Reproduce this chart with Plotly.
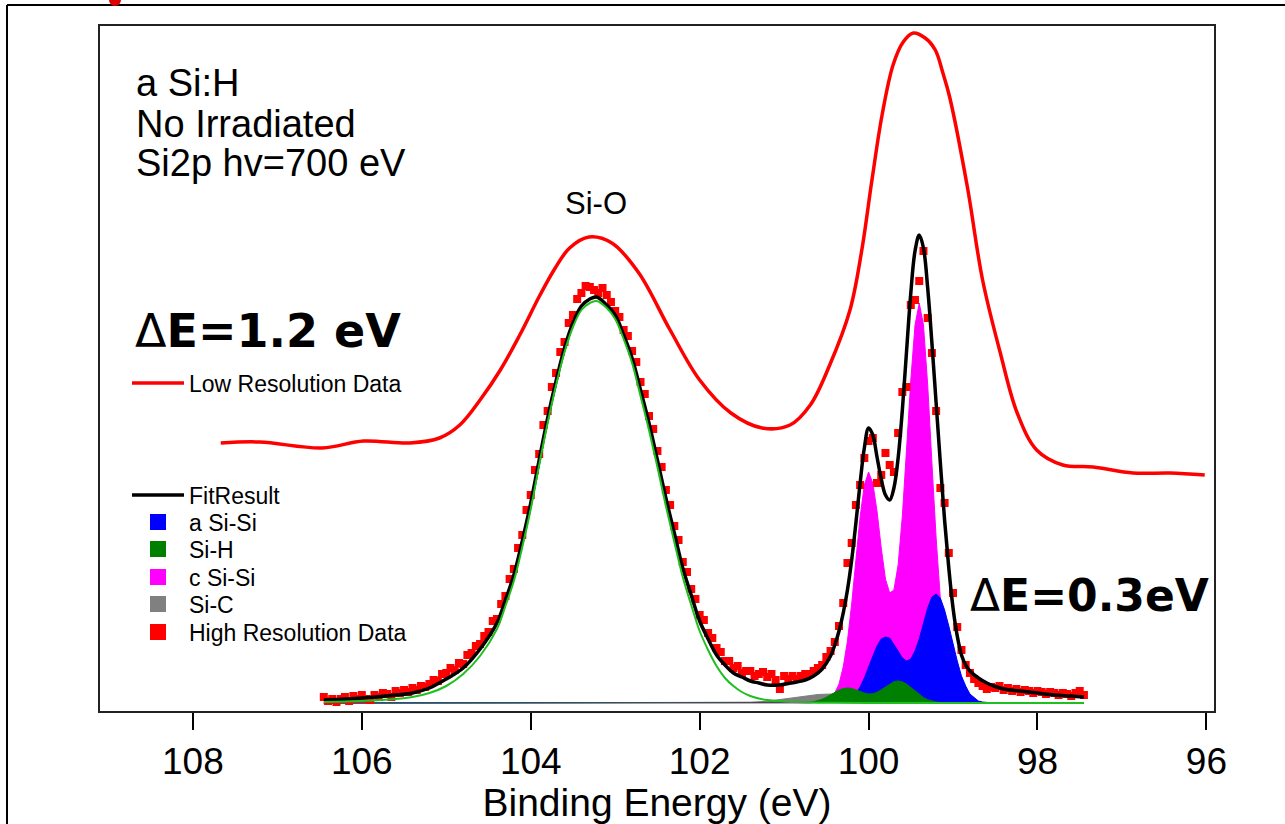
import plotly.graph_objects as go

# ---------------- data ----------------
# High resolution Si2p spectrum, 0.05 eV steps
be_high = [
    106.45, 106.40, 106.35, 106.30, 106.25, 106.20, 106.15, 106.10, 106.05, 106.00,
    105.95, 105.90, 105.85, 105.80, 105.75, 105.70, 105.65, 105.60, 105.55, 105.50,
    105.45, 105.40, 105.35, 105.30, 105.25, 105.20, 105.15, 105.10, 105.05, 105.00,
    104.95, 104.90, 104.85, 104.80, 104.75, 104.70, 104.65, 104.60, 104.55, 104.50,
    104.45, 104.40, 104.35, 104.30, 104.25, 104.20, 104.15, 104.10, 104.05, 104.00,
    103.95, 103.90, 103.85, 103.80, 103.75, 103.70, 103.65, 103.60, 103.55, 103.50,
    103.45, 103.40, 103.35, 103.30, 103.25, 103.20, 103.15, 103.10, 103.05, 103.00,
    102.95, 102.90, 102.85, 102.80, 102.75, 102.70, 102.65, 102.60, 102.55, 102.50,
    102.45, 102.40, 102.35, 102.30, 102.25, 102.20, 102.15, 102.10, 102.05, 102.00,
    101.95, 101.90, 101.85, 101.80, 101.75, 101.70, 101.65, 101.60, 101.55, 101.50,
    101.45, 101.40, 101.35, 101.30, 101.25, 101.20, 101.15, 101.10, 101.05, 101.00,
    100.95, 100.90, 100.85, 100.80, 100.75, 100.70, 100.65, 100.60, 100.55, 100.50,
    100.45, 100.40, 100.35, 100.30, 100.25, 100.20, 100.15, 100.10, 100.05, 100.00,
    99.95, 99.90, 99.85, 99.80, 99.75, 99.70, 99.65, 99.60, 99.55, 99.50,
    99.45, 99.40, 99.35, 99.30, 99.25, 99.20, 99.15, 99.10, 99.05, 99.00,
    98.95, 98.90, 98.85, 98.80, 98.75, 98.70, 98.65, 98.60, 98.55, 98.50,
    98.45, 98.40, 98.35, 98.30, 98.25, 98.20, 98.15, 98.10, 98.05, 98.00,
    97.95, 97.90, 97.85, 97.80, 97.75, 97.70, 97.65, 97.60, 97.55, 97.50,
    97.45,
]
int_high = [
    6, 2, 4, 1, 4, 6, 2, 7, 4, 8,
    4, 3, 8, 6, 10, 9, 6, 12, 10, 13,
    11, 15, 13, 17, 16, 19, 23, 22, 29, 30,
    35, 33, 40, 39, 48, 50, 57, 59, 67, 71,
    82, 84, 99, 107, 124, 134, 155, 168, 193, 208,
    233, 249, 278, 292, 316, 330, 351, 361, 380, 388,
    404, 410, 417, 416, 413, 410, 415, 408, 401, 392,
    386, 373, 367, 352, 341, 321, 309, 287, 274, 252,
    236, 213, 198, 177, 163, 141, 131, 114, 104, 88,
    83, 70, 65, 55, 51, 42, 42, 35, 37, 30,
    32, 32, 27, 29, 31, 26, 29, 23, 14, 27,
    24, 27, 24, 27, 29, 29, 32, 35, 38, 46,
    52, 61, 77, 100, 140, 160, 198, 218, 245, 262,
    265, 220, 228, 250, 238, 231, 270, 311, 316, 398,
    403, 422, 452, 385, 350, 292, 215, 200, 150, 110,
    76, 53, 38, 30, 24, 20, 17, 14, 16, 15,
    17, 13, 15, 12, 14, 11, 13, 12, 10, 12,
    11, 9, 11, 10, 8, 10, 9, 7, 10, 12,
    8,
]

# Low resolution spectrum
be_low = [107.67, 107.21, 106.47, 105.98, 105.43, 105.08, 104.84, 104.60, 104.36, 104.13,
          103.89, 103.71, 103.54, 103.31, 103.04, 102.72, 102.35, 102.00, 101.63, 101.26,
          100.93, 100.69, 100.46, 100.22, 100.08, 99.96, 99.84, 99.71, 99.59, 99.47,
          99.33, 99.21, 99.12, 99.04, 98.83, 98.65, 98.44, 98.24, 98.01, 97.70,
          97.34, 96.87, 96.43, 96.02]
int_low = [260, 261, 255, 262, 260, 265, 278, 303, 333, 368,
           408, 435, 455, 466, 460, 430, 373, 323, 290, 275,
           278, 298, 338, 393, 453, 523, 588, 638, 661, 670,
           665, 653, 630, 606, 516, 423, 350, 290, 253, 238,
           236, 230, 230, 228]

# Total fit envelope
be_fit = [106.45, 106.0, 105.6, 105.4, 105.2, 105.0, 104.8, 104.6, 104.4, 104.3,
          104.2, 104.1, 104.0, 103.9, 103.8, 103.7, 103.6, 103.5, 103.4, 103.3,
          103.22, 103.1, 103.0, 102.9, 102.8, 102.7, 102.6, 102.5, 102.4, 102.3,
          102.2, 102.1, 102.0, 101.9, 101.8, 101.7, 101.6, 101.5, 101.4, 101.3,
          101.2, 101.05, 100.95, 100.85, 100.75, 100.65, 100.55, 100.45, 100.40, 100.35,
          100.30, 100.25, 100.20, 100.15, 100.10, 100.05, 100.00, 99.95, 99.90, 99.85,
          99.80, 99.75, 99.70, 99.65, 99.60, 99.55, 99.50, 99.45, 99.40, 99.35,
          99.30, 99.25, 99.20, 99.15, 99.10, 99.05, 99.00, 98.95, 98.90, 98.85,
          98.80, 98.70, 98.60, 98.50, 98.40, 98.20, 98.00, 97.80, 97.60, 97.45]
int_fit = [3, 5, 8, 10, 15, 24, 35, 54, 80, 103,
           128, 162, 200, 243, 285, 322, 355, 380, 397, 404,
           406, 398, 388, 368, 345, 313, 280, 243, 205, 170,
           135, 108, 82, 64, 48, 38, 30, 26, 22, 20,
           18, 18, 19.5, 21, 23, 27, 34, 47, 58, 72,
           90, 113, 143, 180, 220, 255, 275, 268, 246, 224,
           208, 203, 215, 245, 293, 352, 410, 452, 468, 455,
           415, 360, 300, 240, 183, 135, 95, 67, 48, 38,
           32, 25, 20, 16.5, 14, 12, 10, 8, 7, 6]

# Si-O component
be_sio = [106.45, 106.0, 105.6, 105.4, 105.2, 105.0, 104.8, 104.6, 104.4, 104.3,
          104.2, 104.1, 104.0, 103.9, 103.8, 103.7, 103.6, 103.5, 103.4, 103.3,
          103.22, 103.1, 103.0, 102.9, 102.8, 102.7, 102.6, 102.5, 102.4, 102.3,
          102.2, 102.1, 102.0, 101.9, 101.8, 101.7, 101.6, 101.5, 101.4, 101.3,
          101.2, 101.0, 100.8, 100.5, 100.0, 97.45]
int_sio = [1, 2, 4, 6, 10, 17, 29, 47, 74, 97,
           122, 156, 194, 238, 280, 318, 351, 376, 393, 400,
           402, 395, 384, 364, 340, 307, 273, 236, 197, 161,
           126, 98, 72, 53, 37, 25, 17, 11, 7, 4.5,
           3, 1.5, 0.7, 0.2, 0, 0]

# c Si-Si doublet
be_csi = [106.45, 100.70, 100.60, 100.55, 100.50, 100.45, 100.40, 100.35, 100.30, 100.25,
          100.20, 100.15, 100.10, 100.05, 100.00, 99.95, 99.90, 99.85, 99.80, 99.75,
          99.70, 99.65, 99.60, 99.55, 99.50, 99.45, 99.40, 99.35, 99.30, 99.25,
          99.20, 99.15, 99.10, 99.05, 99.00, 98.95, 98.90, 98.85, 98.80, 98.60, 97.45]
int_csi = [0, 0, 1, 2, 3, 5, 10, 19, 36, 62,
           99, 143, 186, 218, 231, 220, 192, 155, 124, 110,
           113, 138, 187, 254, 323, 378, 400, 378, 318, 240,
           165, 104, 60, 32, 16, 8, 4, 2, 1, 0, 0]

# a Si-Si doublet
be_asi = [106.45, 100.45, 100.40, 100.35, 100.30, 100.25, 100.20, 100.15, 100.10, 100.05,
          100.00, 99.95, 99.90, 99.85, 99.80, 99.75, 99.70, 99.65, 99.60, 99.55,
          99.50, 99.45, 99.40, 99.35, 99.30, 99.25, 99.20, 99.15, 99.10, 99.05,
          99.00, 98.95, 98.90, 98.85, 98.80, 98.75, 98.70, 98.65, 98.60, 98.55,
          98.45, 97.45]
int_asi = [0, 0, 0.3, 0.6, 1.4, 2.9, 5.6, 10, 16, 25,
           36, 47, 57, 64, 66, 65, 59, 52, 45, 42,
           44, 52, 64, 80, 95, 106, 109, 105, 93, 77,
           59, 42, 27, 17, 9, 5, 2, 1, 0.4, 0.2,
           0, 0]

# Si-H doublet
be_sih = [106.45, 100.90, 100.85, 100.80, 100.75, 100.70, 100.65, 100.60, 100.55, 100.50,
          100.45, 100.40, 100.35, 100.30, 100.25, 100.20, 100.15, 100.10, 100.05, 100.00,
          99.95, 99.90, 99.85, 99.80, 99.75, 99.70, 99.65, 99.60, 99.55, 99.50,
          99.45, 99.40, 99.35, 99.30, 99.25, 99.20, 99.15, 99.10, 99.05, 98.95, 97.45]
int_sih = [0, 0, 0.1, 0.1, 0.3, 0.7, 1.3, 2.3, 3.7, 5.7,
           8.1, 10.6, 12.9, 14.4, 15.1, 14.6, 13.4, 11.6, 10.0, 9.0,
           9.2, 10.7, 13.2, 16.2, 19.2, 21.3, 22.1, 21.2, 18.9, 15.6,
           11.9, 8.4, 5.5, 3.3, 1.9, 1.0, 0.5, 0.2, 0.1, 0, 0]

# Si-C component
be_sic = [106.45, 102.0, 101.8, 101.6, 101.4, 101.2, 101.0, 100.8, 100.6, 100.45,
          100.3, 100.1, 99.9, 99.7, 99.5, 99.3, 99.1, 98.9, 97.45]
int_sic = [0, 0, 0.05, 0.2, 0.7, 1.8, 3.8, 6.4, 8.5, 9,
           8.5, 6.4, 3.8, 1.8, 0.7, 0.2, 0.05, 0, 0]

x_ticks = [108, 106, 104, 102, 100, 98, 96]

# ---------------- figure ----------------
W, H = 1285, 824
L, R, T, B = 100, 1214, 26, 711   # plot-area edges in pixels


def px(xp):
    return (xp - L) / (R - L)


def py(yp):
    return (B - yp) / (B - T)


SANS = "Liberation Sans, Arial, sans-serif"
COMIC = "Comic Sans MS, DejaVu Sans, sans-serif"

fig = go.Figure()

# component fills (drawn back to front)
fills = [
    ("Si-C", be_sic, int_sic, "#808080", "legend7"),
    ("c Si-Si", be_csi, int_csi, "#ff00ff", "legend6"),
    ("a Si-Si", be_asi, int_asi, "#0000ff", "legend4"),
    ("Si-H", be_sih, int_sih, "#008000", "legend5"),
]
for name, xs, ys, col, lg in fills:
    fig.add_trace(go.Scatter(
        x=xs, y=ys, mode="lines", fill="tozeroy", fillcolor=col,
        line=dict(color=col, width=1), name=name, legendgroup=name,
        showlegend=False,
    ))
    # legend swatch
    fig.add_trace(go.Scatter(
        x=[None], y=[None], mode="markers", name=name, legendgroup=name,
        marker=dict(symbol="square", size=16, color=col), legend=lg,
    ))

# low resolution spectrum
fig.add_trace(go.Scatter(
    x=be_low, y=int_low, mode="lines", line=dict(color="#ff0000", width=3.5, shape="spline"),
    name="Low Resolution Data", legend="legend",
))

# high resolution data points
fig.add_trace(go.Scatter(
    x=be_high, y=int_high, mode="markers",
    marker=dict(symbol="square", size=8, color="#ff0000"),
    name="High Resolution Data", legendgroup="hr", showlegend=False,
))
fig.add_trace(go.Scatter(
    x=[None], y=[None], mode="markers", name="High Resolution Data", legendgroup="hr",
    marker=dict(symbol="square", size=16, color="#ff0000"), legend="legend8",
))

# fit envelope
fig.add_trace(go.Scatter(
    x=be_fit, y=int_fit, mode="lines", line=dict(color="#000000", width=3.5, shape="spline"),
    name="FitResult", legend="legend3",
))

# Si-O component line
fig.add_trace(go.Scatter(
    x=be_sio, y=int_sio, mode="lines", line=dict(color="#1fbf1f", width=2, shape="spline"),
    name="Si-O", showlegend=False,
))

# one legend box per entry so each row sits at its own height
legend_rows = {"legend": 383, "legend3": 495, "legend4": 522, "legend5": 549,
               "legend6": 577, "legend7": 604, "legend8": 632}
legend_layout = {}
for key, ypix in legend_rows.items():
    legend_layout[key] = dict(
        x=px(127), y=py(ypix), xanchor="left", yanchor="middle",
        bgcolor="rgba(0,0,0,0)", borderwidth=0,
        font=dict(family=SANS, size=23, color="#000000"),
        itemwidth=52,
    )

fig.update_layout(
    width=W, height=H,
    margin=dict(l=L, r=W - R, t=T, b=H - B, autoexpand=False),
    paper_bgcolor="#ffffff", plot_bgcolor="#ffffff",
    showlegend=True,
    **legend_layout,
    xaxis=dict(
        range=[109.10, 95.91], tickvals=x_ticks, ticktext=[str(v) for v in x_ticks],
        ticks="outside", ticklen=17, tickwidth=2, tickcolor="#000000",
        showline=True, linewidth=2, linecolor="#222222", mirror=True,
        showgrid=False, zeroline=False, automargin=False,
        tickfont=dict(family=SANS, size=37, color="#000000"),
        title=dict(text="Binding Energy (eV)", font=dict(family=SANS, size=39, color="#000000"),
                   standoff=12),
    ),
    yaxis=dict(
        range=[-8, 677], showticklabels=False, ticks="",
        showline=True, linewidth=2, linecolor="#222222", mirror=True,
        showgrid=False, zeroline=False, automargin=False,
    ),
)

# text labels
labels = [
    ("a Si:H", 134, 83, 38, SANS, "left"),
    ("No Irradiated", 134, 124, 38, SANS, "left"),
    ("Si2p hv=700 eV", 134, 163, 38, SANS, "left"),
    ("Si-O", 596, 203, 31, SANS, "center"),
    ("Δ<b>E=1.2 eV</b>", 133, 331, 46, COMIC, "left"),
    ("Δ<b>E=0.3eV</b>", 968, 595, 44, COMIC, "left"),
]
for txt, xp, yp, size, fam, anchor in labels:
    fig.add_annotation(
        text=txt, x=px(xp), y=py(yp), xref="paper", yref="paper",
        xanchor=anchor, yanchor="middle", showarrow=False,
        font=dict(family=fam, size=size, color="#000000"),
    )

# surrounding slide frame
fig.add_shape(type="line", xref="paper", yref="paper",
              x0=px(7), x1=px(1290), y0=py(5), y1=py(5),
              line=dict(color="#000000", width=2))
fig.add_shape(type="line", xref="paper", yref="paper",
              x0=px(7), x1=px(7), y0=py(5), y1=py(830),
              line=dict(color="#000000", width=2))
fig.add_shape(type="circle", xref="paper", yref="paper",
              x0=px(109), x1=px(121), y0=py(-6), y1=py(6),
              fillcolor="#dd0000", line=dict(width=0))

fig.write_html("out.html")
